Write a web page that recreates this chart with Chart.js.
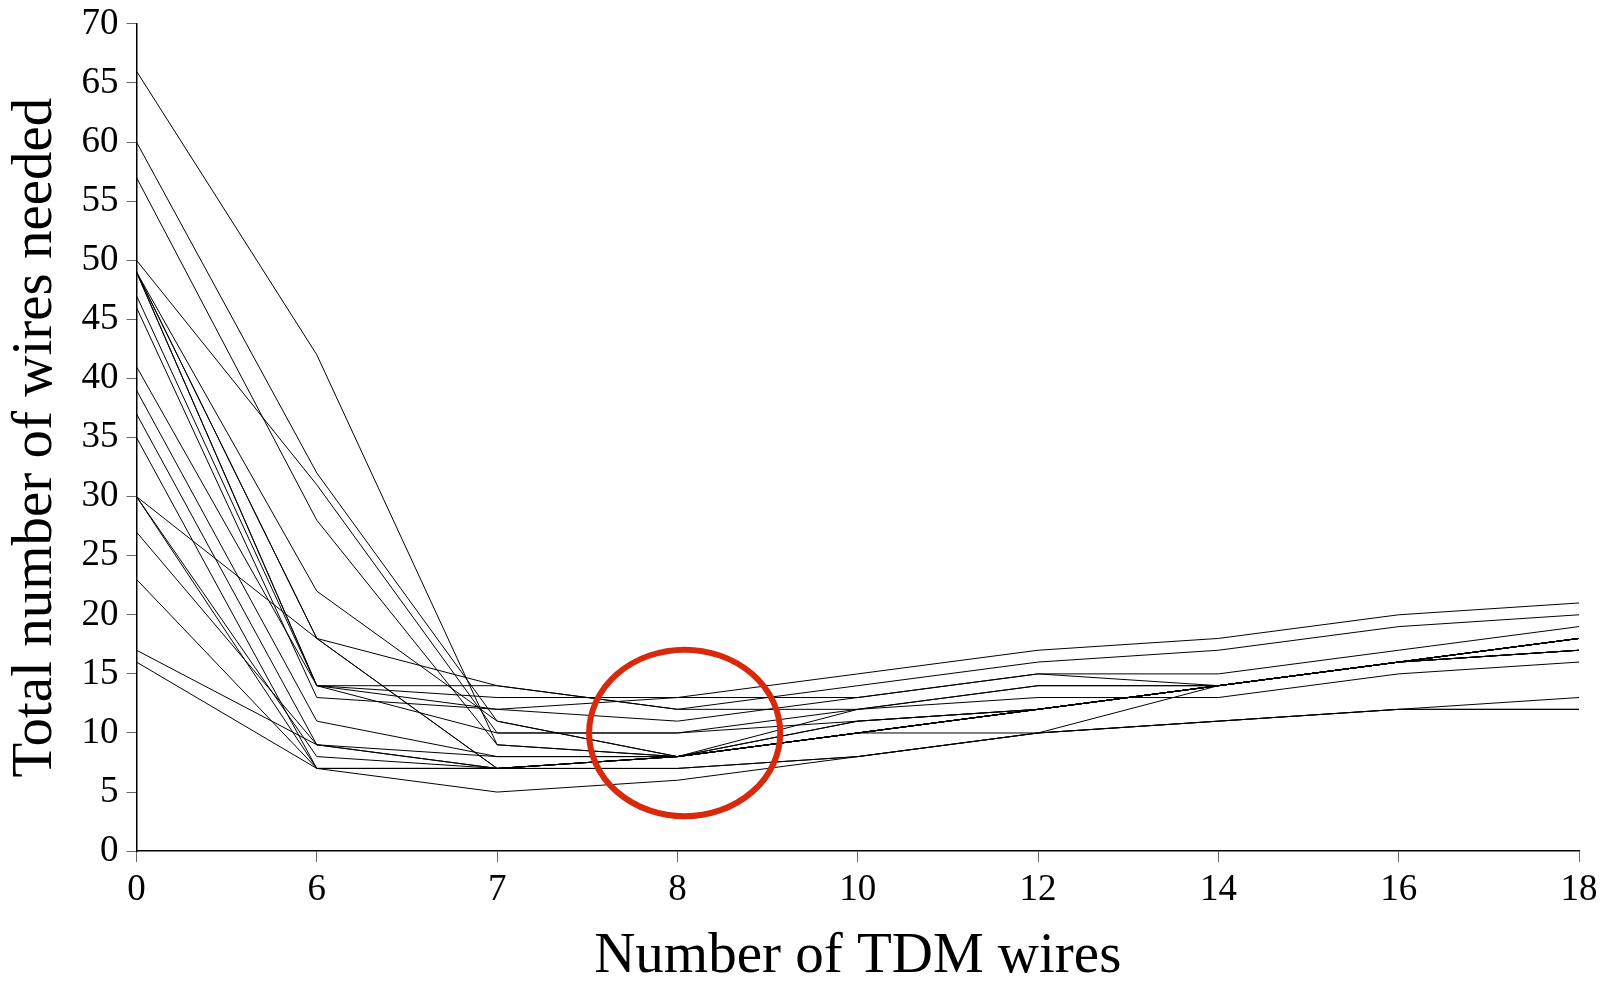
<!DOCTYPE html>
<html>
<head>
<meta charset="utf-8">
<script src="https://cdn.jsdelivr.net/npm/chart.js@4.4.1/dist/chart.umd.min.js"></script>
<style>
  html, body { margin: 0; padding: 0; background: #fff; }
  #wrap { width: 1608px; height: 981px; }
</style>
</head>
<body>
<div id="wrap"><canvas id="chart"></canvas></div>
<script>
// categorias do eixo x (numero de fios TDM)
const tdmWires = ['0', '6', '7', '8', '10', '12', '14', '16', '18'];

// total de fios por configuracao (uma linha cada)
const run01 = [66, 42, 9, 8, 10, 12, 14, 16, 18];
const run02 = [60, 32, 11, 8, 11, 12, 14, 16, 17];
const run03 = [57, 28, 9, 8, 10, 12, 14, 16, 18];
const run04 = [50, 31, 10, 10, 11, 12, 14, 16, 17];
const run05 = [49, 22, 11, 8, 12, 14, 14, 16, 18];
const run06 = [49, 18, 7, 8, 10, 12, 14, 16, 18];
const run07 = [49, 18, 7, 7, 8, 10, 11, 12, 13];
const run08 = [49, 14, 14, 12, 14, 16, 17, 19, 20];
const run09 = [49, 14, 13, 13, 15, 17, 18, 20, 21];
const run10 = [47, 14, 12, 13, 13, 15, 15, 17, 19];
const run11 = [46, 13, 12, 11, 13, 15, 14, 16, 18];
const run12 = [41, 14, 10, 10, 12, 13, 13, 15, 16];
const run13 = [39, 11, 8, 8, 10, 12, 14, 16, 17];
const run14 = [37, 9, 7, 8, 10, 12, 14, 16, 18];
const run15 = [35, 7, 7, 8, 11, 12, 14, 16, 18];
const run16 = [30, 18, 14, 12, 12, 14, 14, 16, 18];
const run17 = [30, 8, 7, 8, 10, 10, 14, 16, 17];
const run18 = [30, 7, 7, 7, 8, 10, 11, 12, 12];
const run19 = [27, 9, 8, 8, 10, 12, 14, 16, 18];
const run20 = [23, 7, 7, 8, 10, 12, 14, 16, 17];
const run21 = [17, 9, 7, 8, 10, 12, 14, 16, 18];
const run22 = [16, 7, 5, 6, 8, 10, 11, 12, 12];

const runs = [run01, run02, run03, run04, run05, run06, run07, run08, run09, run10, run11,
              run12, run13, run14, run15, run16, run17, run18, run19, run20, run21, run22];

// circulo vermelho em volta do minimo (8 fios TDM, ~10 fios)
const ringCenter = [3.04, 10];

const serif = "'Liberation Serif', 'DejaVu Serif', serif";

const ringPlugin = {
    id: 'ring',
    afterDatasetsDraw(chart, args, opts) {
        const { ctx, scales: { x, y } } = chart;
        const cx = x.getPixelForValue(ringCenter[0]);
        const cy = y.getPixelForValue(ringCenter[1]);
        const rx = (x.getPixelForValue(1) - x.getPixelForValue(0)) * opts.spanX;
        const ry = Math.abs(y.getPixelForValue(0) - y.getPixelForValue(opts.spanY));
        ctx.save();
        ctx.beginPath();
        ctx.ellipse(cx, cy, rx, ry, 0, 0, Math.PI * 2);
        ctx.lineWidth = opts.width;
        ctx.strokeStyle = opts.color;
        ctx.stroke();
        ctx.restore();
    }
};

new Chart(document.getElementById('chart'), {
    type: 'line',
    data: {
        labels: tdmWires,
        datasets: runs.map((r, i) => ({
            label: 'run ' + (i + 1),
            data: r,
            borderColor: '#000',
            borderWidth: 1,
            pointRadius: 0,
            tension: 0,
            fill: false
        }))
    },
    options: {
        responsive: true,
        maintainAspectRatio: false,
        animation: false,
        layout: { padding: { top: 0, right: 29, bottom: 0, left: 8 } },
        plugins: {
            legend: { display: false },
            tooltip: { enabled: false },
            ring: { spanX: 0.53, spanY: 7.05, width: 6, color: '#d9290c' }
        },
        scales: {
            x: {
                type: 'category',
                offset: false,
                border: { color: '#000', width: 1.5 },
                grid: { offset: false, drawOnChartArea: false, drawTicks: true, tickLength: 11, color: '#666' },
                ticks: { autoSkip: false, maxRotation: 0, color: '#000', padding: 6, font: { family: serif, size: 37 } },
                title: { display: true, text: 'Number of TDM wires', color: '#000', padding: { top: 14, bottom: 0 }, font: { family: serif, size: 57, lineHeight: 0.85 } }
            },
            y: {
                min: 0,
                max: 70,
                border: { color: '#000', width: 1.5 },
                grid: { drawOnChartArea: false, drawTicks: true, tickLength: 10, color: '#666' },
                ticks: { stepSize: 5, color: '#000', padding: 8, font: { family: serif, size: 37, lineHeight: 0.86 } },
                title: { display: true, text: 'Total number of wires needed', color: '#000', padding: { top: 0, bottom: 8.5 }, font: { family: serif, size: 57, lineHeight: 1 } }
            }
        }
    },
    plugins: [ringPlugin]
});
</script>
</body>
</html>
